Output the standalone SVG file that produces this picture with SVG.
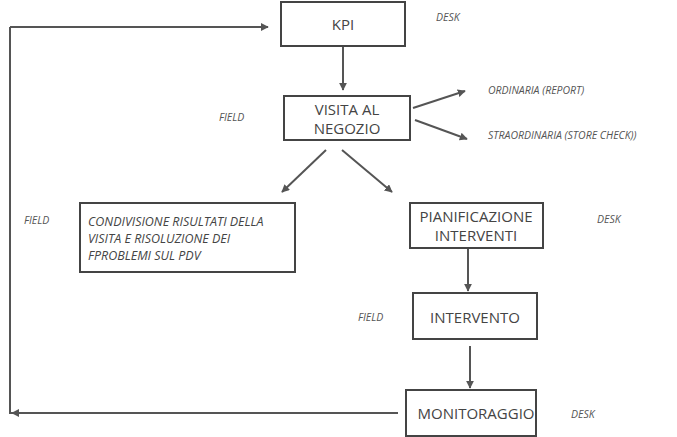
<svg xmlns="http://www.w3.org/2000/svg" width="677" height="437" viewBox="0 0 677 437">
<style>
.b{fill:#fff;stroke:#444;stroke-width:2}
.t{font-family:"Open Sans",sans-serif;font-size:15px;fill:#444;text-anchor:middle}
.s{font-family:"Open Sans",sans-serif;font-size:10.5px;font-style:italic;fill:#555}
.l{font-family:"Open Sans",sans-serif;font-size:12.5px;font-style:italic;fill:#444}
.c{stroke:#555;stroke-width:2;fill:none;marker-end:url(#a)}
</style>
<defs><marker id="a" viewBox="0 0 10 10" refX="9" refY="5" markerWidth="4" markerHeight="4" orient="auto"><path d="M0,0L10,5L0,10z" fill="#555"/></marker></defs>
<g id="connectors">
<path class="c" d="M343,47V90"/>
<path class="c" d="M413,108L465,91"/>
<path class="c" d="M415,120L467,139"/>
<path class="c" d="M326,150L282,192"/>
<path class="c" d="M342,150L392,192"/>
<path class="c" d="M468,249V291"/>
<path class="c" d="M470,346V388"/>
<path d="M398,413H10V27" stroke="#555" stroke-width="2" fill="none"/>
<path class="c" d="M397,413H12"/>
<path class="c" d="M10,27H268"/>
</g>
<g id="kpi"><rect class="b" x="281" y="2" width="124" height="44"/><text class="t" x="343" y="30">KPI</text></g>
<g id="visita"><rect class="b" x="284" y="96" width="126" height="44"/><text class="t" x="347" y="115">VISITA AL</text><text class="t" x="347" y="134">NEGOZIO</text></g>
<g id="condivisione"><rect class="b" x="80" y="203" width="215" height="69"/><text class="l" x="88" y="226">CONDIVISIONE RISULTATI DELLA</text><text class="l" x="88" y="243">VISITA E RISOLUZIONE DEI</text><text class="l" x="88" y="260">FPROBLEMI  SUL PDV</text></g>
<g id="pianificazione"><rect class="b" x="410" y="203" width="133" height="45"/><text class="t" x="476" y="222">PIANIFICAZIONE</text><text class="t" x="476" y="241">INTERVENTI</text></g>
<g id="intervento"><rect class="b" x="413" y="293" width="124" height="46"/><text class="t" x="475" y="323">INTERVENTO</text></g>
<g id="monitoraggio"><rect class="b" x="406" y="390" width="130" height="46"/><text class="t" x="476" y="419">MONITORAGGIO</text></g>
<g id="labels">
<text class="s" x="436" y="21">DESK</text>
<text class="s" x="219" y="121">FIELD</text>
<text class="s" x="488" y="94">ORDINARIA (REPORT)</text>
<text class="s" x="488" y="139">STRAORDINARIA (STORE CHECK))</text>
<text class="s" x="24" y="224">FIELD</text>
<text class="s" x="597" y="223">DESK</text>
<text class="s" x="358" y="321">FIELD</text>
<text class="s" x="571" y="418">DESK</text>
</g>
</svg>
